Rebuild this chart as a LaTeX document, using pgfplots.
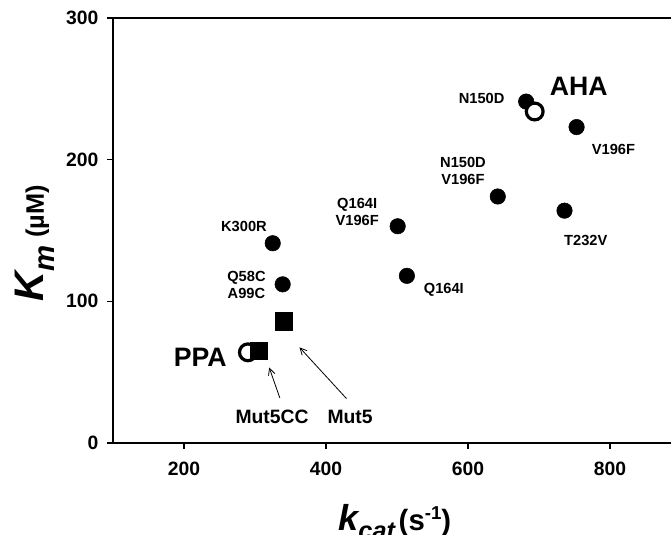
\documentclass[border=0pt]{standalone}
\usepackage{fontspec}
\setmainfont{Liberation Sans}
\usepackage{pgfplots}
\pgfplotsset{compat=1.18}
\usetikzlibrary{arrows.meta}
\newcommand{\fs}[1]{\fontsize{#1}{#1}\selectfont}
\begin{document}
\begin{tikzpicture}
\begin{axis}[
  name=ax,
  scale only axis,
  width=418.5pt, height=318.75pt,
  xmin=100, xmax=886, ymin=0, ymax=300,
  axis x line=box, axis y line=left,
  axis line style={line width=1.5pt, -},
  xtick={200,400,600,800}, ytick={0,100,200,300},
  xtick pos=bottom, ytick pos=left,
  tick align=outside, major tick length=4.5pt,
  tick style={line width=1.2pt, black},
  minor tick num=0,
  /pgf/number format/assume math mode=true,
  ticklabel style={font=\fs{14.5}\bfseries},
  xticklabel style={yshift=-6pt},
  yticklabel style={xshift=-3pt},
  clip=false,
  xlabel={{\fs{27}\bfseries\itshape k}\raisebox{-7pt}{\fs{19}\bfseries\itshape cat}\ {\fs{22}\bfseries (s\raisebox{8pt}{\fs{14}\bfseries -1})}},
  xlabel style={at={(axis description cs:0.505,-0.205)}, anchor=base},
  ylabel={{\fs{31}\bfseries\itshape K}\raisebox{-8pt}{\fs{22}\bfseries\itshape m}\ \ {\fs{19}\bfseries (µM)}},
  ylabel style={at={(axis description cs:-0.14,0.47)}, anchor=center},
]
% filled circles: mutants
\addplot[only marks, mark=*, mark size=5.8pt, black] coordinates {
 (682,241) (753,223) (642,174) (736,164) (501,153)
 (325,141) (514,118) (339,112)};
% open circles: wild types (AHA, PPA)
\addplot[only marks, mark=*, mark size=6.3pt, black, line width=2.4pt, fill=white, mark options={fill=white}] coordinates {
 (694,234) (290,64)};
% squares: Mut5, Mut5CC
\addplot[only marks, mark=square*, mark size=6.5pt, black] coordinates {
 (341,86) (305,65)};
% labels
\node[font=\fs{11}\bfseries, anchor=east] at (axis cs:658,243) {N150D};
\node[font=\fs{20}\bfseries] at (axis cs:756,252) {AHA};
\node[font=\fs{11}\bfseries] at (axis cs:805,207.5) {V196F};
\node[font=\fs{11}\bfseries, align=center] at (axis cs:593,192) {N150D\\[1.5pt]V196F};
\node[font=\fs{11}\bfseries, align=center] at (axis cs:444,163) {Q164I\\[1.5pt]V196F};
\node[font=\fs{11}\bfseries] at (axis cs:284.5,152.5) {K300R};
\node[font=\fs{11}\bfseries] at (axis cs:766,143) {T232V};
\node[font=\fs{11}\bfseries] at (axis cs:566,108) {Q164I};
\node[font=\fs{11}\bfseries, align=center] at (axis cs:288,111.5) {Q58C\\[1.5pt]A99C};
\node[font=\fs{20}\bfseries] at (axis cs:223,60.7) {PPA};
\node[font=\fs{14.5}\bfseries] at (axis cs:324,18.7) {Mut5CC};
\node[font=\fs{14.5}\bfseries] at (axis cs:434,18.7) {Mut5};
\draw[line width=0.6pt, -{Straight Barb[length=5pt,width=5pt]}] (axis cs:335,31.8) -- (axis cs:320,53.3);
\draw[line width=0.6pt, -{Straight Barb[length=5pt,width=5pt]}] (axis cs:429,31.3) -- (axis cs:362.7,67.5);
\end{axis}
\pgfresetboundingbox
\useasboundingbox ([xshift=-84.75pt,yshift=-69pt]ax.south west) rectangle ([yshift=13.5pt]ax.north east);
\end{tikzpicture}
\end{document}
